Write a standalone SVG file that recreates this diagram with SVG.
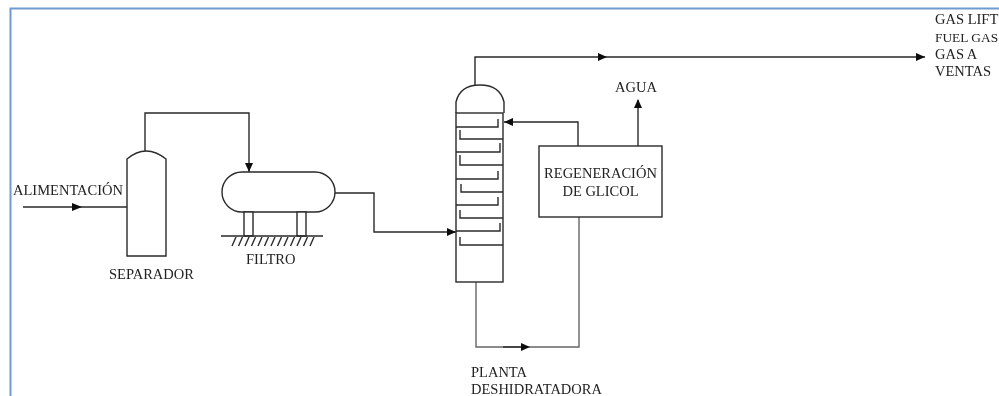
<svg xmlns="http://www.w3.org/2000/svg" width="999" height="396" viewBox="0 0 999 396">
<style>
.l{fill:none;stroke:#2a2a2a;stroke-width:1.4}
.n{fill:#fff;stroke:#2a2a2a;stroke-width:1.4}
.g{fill:none;stroke:#666;stroke-width:1.4}
.a{fill:#111;stroke:none}
text{font-family:"Liberation Serif","Times New Roman",serif;font-size:14.500px;fill:#222}
.s{font-size:13.400px}
</style>
<defs><filter id="b" x="-2%" y="-2%" width="104%" height="104%"><feGaussianBlur stdDeviation="0.4"/></filter></defs>
<rect width="999" height="396" fill="#fff"/>
<path d="M10.500 396V8.500H999" fill="none" stroke="#6f9bcf" stroke-width="2"/>
<g filter="url(#b)">
<g id="connectors">
<path class="l" d="M23 207H127"/>
<polygon class="a" points="72,203 82,207 72,211"/>
<path class="l" d="M145 151V113H249V172"/>
<polygon class="a" points="245,163 253,163 249,172"/>
<path class="l" d="M335 193H374V232H456"/>
<polygon class="a" points="447,228 456,232 447,236"/>
<path class="l" d="M475 85V57H925"/>
<polygon class="a" points="598,53 607,57 598,61"/>
<polygon class="a" points="916,53 925,57 916,61"/>
<path class="l" d="M578 146V122H504"/>
<polygon class="a" points="504,122 513,118 513,126"/>
<path class="l" d="M638 146V100"/>
<polygon class="a" points="638,99 634,108 642,108"/>
<path class="g" d="M579 217V347H476V282"/>
<polygon class="a" points="521,343 530,347 521,351"/>
<path class="l" d="M503 347H521"/>
</g>
<g id="separador">
<path class="n" d="M127 256V159Q146 143 166 159V256Z"/>
<text x="109" y="279">SEPARADOR</text>
</g>
<g id="filtro">
<rect class="n" x="222" y="172" width="113" height="40" rx="20"/>
<rect class="n" x="244" y="212" width="9" height="24"/>
<rect class="n" x="297" y="212" width="9" height="24"/>
<path class="l" d="M221 236H323"/>
<path class="l" d="M236 237l-4 9M242.500 237l-4 9M249 237l-4 9M255.500 237l-4 9M262 237l-4 9M268.500 237l-4 9M275 237l-4 9M281.500 237l-4 9M288 237l-4 9M294.500 237l-4 9M301 237l-4 9M307.500 237l-4 9M314 237l-4 9"/>
<text x="246" y="264">FILTRO</text>
</g>
<g id="planta">
<path class="n" d="M456 113V102Q460 85 480 85Q500 85 504 102V113"/>
<rect class="n" x="456" y="113" width="47" height="169"/>
<path class="l" d="M456 127H498V119M503 139H460V130M456 152H500V143M503 165H460V155M456 179H498V171M503 192H461V184M456 205H498V197M503 218H460V210M456 231H500V223M503 245H460V237"/>
<text x="471" y="377">PLANTA</text>
<text x="471" y="394">DESHIDRATADORA</text>
</g>
<g id="regeneracion">
<rect class="n" x="539" y="146" width="123" height="71"/>
<text x="600.500" y="178" text-anchor="middle">REGENERACIÓN</text>
<text x="600.500" y="196" text-anchor="middle">DE GLICOL</text>
</g>
<text x="615" y="92">AGUA</text>
<text x="13" y="195">ALIMENTACIÓN</text>
<text x="935" y="24">GAS LIFT</text>
<text class="s" x="935" y="42">FUEL GAS</text>
<text x="935" y="59">GAS A</text>
<text x="935" y="76">VENTAS</text>
</g>
</svg>
